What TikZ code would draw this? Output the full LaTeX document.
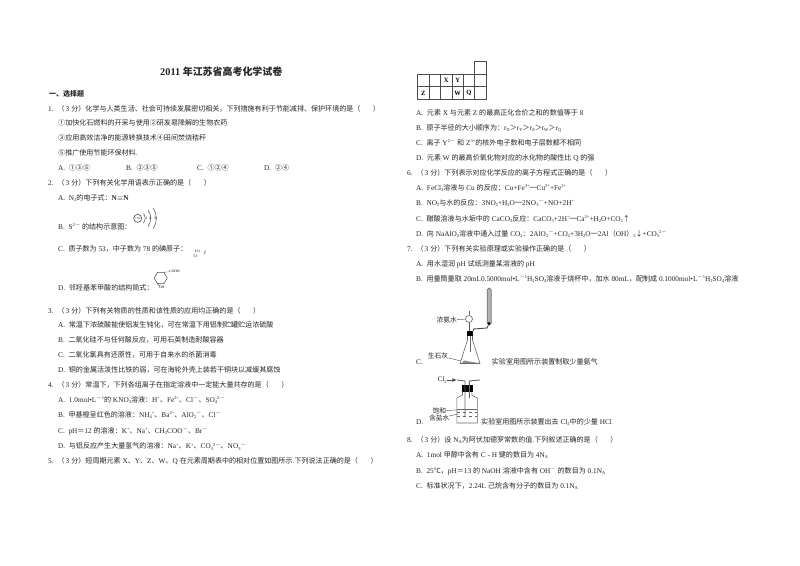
\documentclass[tikz,border=0pt]{standalone}
\usepackage{fontspec}
\setmainfont{Liberation Serif}
\newfontfamily\cjk[Scale=0.966]{Noto Sans CJK SC}
\usetikzlibrary{positioning,arrows,shapes,calc}
\newcommand{\zh}[1]{{\cjk #1}}
\newcommand{\up}[1]{\raisebox{2.6pt}{\fontsize{4.5}{5}\selectfont #1}}
\newcommand{\dn}[1]{\raisebox{-1.2pt}{\fontsize{4.5}{5}\selectfont #1}}
% full width marks
\newcommand{\dou}{{\cjk\char"FF0C\relax}}
\newcommand{\mao}{{\cjk\char"FF1A\relax}}
\newcommand{\zuo}{{\cjk\char"FF08\relax}}
\newcommand{\you}{{\cjk\char"FF09\relax}}
\newcommand{\dayu}{{\cjk\char"FF1E\relax}}
\newcommand{\deng}{{\cjk\char"FF1D\relax}}
\newcommand{\qhead}[1]{#1.\hspace{4pt}\zuo{}\hspace{1pt}3\hspace{2pt}\zh{分}\you{}}
\newcommand{\blank}{\zuo{}\hspace{12.5pt}\you{}}
\tikzset{
  txt/.style={anchor=base west,inner sep=0pt,yshift=-3.3pt,font=\fontsize{7.3}{9}\selectfont,text=black!85},
  small/.style={anchor=center,inner sep=0pt,font=\fontsize{7}{8}\selectfont,text=black!85},
  tiny/.style={anchor=center,inner sep=0pt,font=\fontsize{3.6}{4}\selectfont},
  cell/.style={draw=black!70,line width=.6pt,minimum width=11.4pt,minimum height=12.5pt,inner sep=0pt,font=\fontsize{6.5}{8}\selectfont\bfseries},
  glass/.style={draw=black!60,line width=.6pt},
  stopper/.style={fill=black,inner sep=0pt}
}
\begin{document}
\begin{tikzpicture}[x=1pt,y=-1pt]
\useasboundingbox[fill=white] (0,0) rectangle (800,565);
% left column
\node[txt,font=\fontsize{10.3}{12}\selectfont\bfseries] (title) at (160,72) {2011 \zh{年江苏省高考化学试卷}};
\node[txt,font=\fontsize{7.2}{9}\selectfont\bfseries] (sec) at (49,93) {\zh{一、选择题}};
\node[txt] (q1) at (48,108) {\qhead{1}\zh{化学与人类生活、社会可持续发展密切相关}\dou{}\zh{下列措施有利于节能减排、保护环境的是}\blank};
\node[txt] (q1o1) at (58,122) {\zh{①加快化石燃料的开采与使用②研发易降解的生物农药}};
\node[txt] (q1o2) at (58,137) {\zh{③应用高效洁净的能源转换技术④田间焚烧秸秆}};
\node[txt] (q1o3) at (58,152) {\zh{⑤推广使用节能环保材料.}};
\node[txt] (q1a) at (58,167) {A.\ \ \zh{①③⑤}};
\node[txt] (q1b) at (126,167) {B.\ \ \zh{②③⑤}};
\node[txt] (q1c) at (197,167) {C.\ \ \zh{①②④}};
\node[txt] (q1d) at (264,167) {D.\ \ \zh{②④}};
\node[txt] (q2) at (48,182) {\qhead{2}\zh{下列有关化学用语表示正确的是}\blank};
\node[txt] (q2a) at (58,197) {A.\ \ N\dn{2}\zh{的电子式}\mao{}\textbf{N$\equiv$N}};
\node[txt] (q2b) at (58,226) {B.\ \ S\up{2$-$}\ \zh{的结构示意图}\mao};
\node[txt] (q2c) at (58,248) {C.\ \ \zh{质子数为} 53\dou{}\zh{中子数为} 78 \zh{的碘原子}\mao};
\node[txt] (q2d) at (58,287) {D.\ \ \zh{邻羟基苯甲酸的结构简式}\mao};
% S2- ion
\node[circle,draw=black!70,line width=.6pt,minimum size=8pt,inner sep=0pt,font=\fontsize{3.2}{4}\selectfont] (ion) at (137.7,218.3) {+16};
\draw[black!70,line width=.5pt] (143.5,213.5) to[bend left=35] (143.5,223);
\draw[black!70,line width=.5pt] (148,210) to[bend left=35] (148,226.5);
\draw[black!70,line width=.5pt] (153,208) to[bend left=35] (153,228.5);
\node[tiny] (e1) at (146.5,218) {2};
\node[tiny] (e2) at (150.5,218) {8};
\node[tiny] (e3) at (155.5,218) {8};
% iodine
\node[tiny] (i1) at (197.5,251) {131};
\node[tiny] (i2) at (195.5,256) {53};
\node[tiny,font=\fontsize{5}{6}\selectfont\itshape] (i3) at (205,253) {I};
% hydroxybenzoic acid
\node[regular polygon,regular polygon sides=6,draw=black!70,line width=.5pt,minimum size=13pt,inner sep=0pt] (ring) at (160.7,278) {};
\node[tiny] (cooh) at (174.5,271.7) {COOH};
\node[tiny] (oh) at (161.7,287.5) {OH};
\draw[black!70,line width=.4pt] (ring.corner 1) -- (cooh);
\draw[black!70,line width=.4pt] (ring.corner 4) -- (oh);
\node[txt] (q3) at (48,310) {\qhead{3}\zh{下列有关物质的性质和该性质的应用均正确的是}\blank};
\node[txt] (q3a) at (58,324) {A.\ \ \zh{常温下浓硫酸能使铝发生钝化}\dou{}\zh{可在常温下用铝制贮罐贮运浓硫酸}};
\node[txt] (q3b) at (58,339) {B.\ \ \zh{二氧化硅不与任何酸反应}\dou{}\zh{可用石英制造耐酸容器}};
\node[txt] (q3c) at (58,354) {C.\ \ \zh{二氧化氯具有还原性}\dou{}\zh{可用于自来水的杀菌消毒}};
\node[txt] (q3d) at (58,369) {D.\ \ \zh{铜的金属活泼性比铁的弱}\dou{}\zh{可在海轮外壳上装若干铜块以减缓其腐蚀}};
\node[txt] (q4) at (48,384) {\qhead{4}\zh{常温下}\dou{}\zh{下列各组离子在指定溶液中一定能大量共存的是}\blank};
\node[txt] (q4a) at (58,399) {A.\ \ 1.0mol•L\up{$-$1}\zh{的} KNO\dn{3}\zh{溶液}\mao{}H\up{+}\zh{、}Fe\up{2+}\zh{、}Cl\up{$-$}\zh{、}SO\dn{4}\up{2$-$}};
\node[txt] (q4b) at (58,414) {B.\ \ \zh{甲基橙呈红色的溶液}\mao{}NH\dn{4}\up{+}\zh{、}Ba\up{2+}\zh{、}AlO\dn{2}\up{$-$}\zh{、}Cl\up{$-$}};
\node[txt] (q4c) at (58,430) {C.\ \ pH\deng{}12 \zh{的溶液}\mao{}K\up{+}\zh{、}Na\up{+}\zh{、}CH\dn{3}COO\up{$-$}\zh{、}Br\up{$-$}};
\node[txt] (q4d) at (58,445.5) {D.\ \ \zh{与铝反应产生大量氢气的溶液}\mao{}Na\up{+}\zh{、}K\up{+}\zh{、}CO\dn{3}\up{2$-$}\zh{、}NO\dn{3}\up{$-$}};
\node[txt] (q5) at (48,460) {\qhead{5}\zh{短周期元素} X\zh{、}Y\zh{、}Z\zh{、}W\zh{、}Q \zh{在元素周期表中的相对位置如图所示.下列说法正确的是}\blank};
% right column, periodic table
\foreach \c/\r/\t in {0/1/,1/1/,2/1/X,3/1/Y,4/1/,5/1/,0/2/Z,1/2/,2/2/,3/2/W,4/2/Q,5/2/,5/0/}
  \node[cell] (c\c\r) at (423.4+11.4*\c,68+12.5*\r) {\t};
\node[txt] (q5a) at (416,112) {A.\ \ \zh{元素} X \zh{与元素} Z \zh{的最高正化合价之和的数值等于} 8};
\node[txt] (q5b) at (416,127) {B.\ \ \zh{原子半径的大小顺序为}\mao{}r\dn{X}\dayu{}r\dn{Y}\dayu{}r\dn{Z}\dayu{}r\dn{W}\dayu{}r\dn{Q}};
\node[txt] (q5c) at (416,142) {C.\ \ \zh{离子} Y\up{2$-$}\ \zh{和} Z\up{3+}\zh{的核外电子数和电子层数都不相同}};
\node[txt] (q5d) at (416,157) {D.\ \ \zh{元素} W \zh{的最高价氧化物对应的水化物的酸性比} Q \zh{的强}};
\node[txt] (q6) at (407,172) {\qhead{6}\zh{下列表示对应化学反应的离子方程式正确的是}\blank};
\node[txt] (q6a) at (416,187) {A.\ \ FeCl\dn{3}\zh{溶液与} Cu \zh{的反应}\mao{}Cu+Fe\up{3+}\zh{═}Cu\up{2+}+Fe\up{2+}};
\node[txt] (q6b) at (416,202) {B.\ \ NO\dn{2}\zh{与水的反应}\mao{}3NO\dn{2}+H\dn{2}O\zh{═}2NO\dn{3}\up{$-$}+NO+2H\up{+}};
\node[txt] (q6c) at (416,218) {C.\ \ \zh{醋酸溶液与水垢中的} CaCO\dn{3}\zh{反应}\mao{}CaCO\dn{3}+2H\up{+}\zh{═}Ca\up{2+}+H\dn{2}O+CO\dn{2}\zh{↑}};
\node[txt] (q6d) at (416,233) {D.\ \ \zh{向} NaAlO\dn{2}\zh{溶液中通入过量} CO\dn{2}\mao{}2AlO\dn{2}\up{$-$}+CO\dn{2}+3H\dn{2}O\zh{═}2Al\zuo{}OH\you{}\dn{3}\zh{↓}+CO\dn{3}\up{2$-$}};
\node[txt] (q7) at (407,248) {\qhead{7}\zh{下列有关实验原理或实验操作正确的是}\blank};
\node[txt] (q7a) at (416,263) {A.\ \ \zh{用水湿润} pH \zh{试纸测量某溶液的} pH};
\node[txt] (q7b) at (416,278) {B.\ \ \zh{用量筒量取} 20mL0.5000mol•L\up{$-$1}H\dn{2}SO\dn{4}\zh{溶液于烧杯中}\dou{}\zh{加水} 80mL\dou{}\zh{配制成} 0.1000mol•L\up{$-$1}H\dn{2}SO\dn{4}\zh{溶液}};
% ammonia apparatus
\node[txt] (q7c) at (416,361) {C.};
\node[txt] (capc) at (491.7,361) {\zh{实验室用图所示装置制取少量氨气}};
\node[small] (labnh) at (446.7,320) {\zh{浓氨水}};
\node[small] (labcao) at (438,355.5) {\zh{生石灰}};
\node[circle,glass,minimum size=7pt,inner sep=0pt] (funnel) at (469,319) {};
\draw[black!60,line width=.8pt] (funnel.north) -- ++(0,-4);
\draw[black!70,line width=.6pt] (funnel.south) -- ++(0,9);
\node[stopper,minimum width=6pt,minimum height=5pt] (plug) at (470,333.5) {};
\draw[glass] (467.5,336) -- (467.5,340) -- (460,363.5) -- (480,363.5) -- (472.5,340) -- (472.5,336);
\draw[black!60,line width=.5pt] (470,336) -- (470,352);
\fill[black!45] (462,363) -- (464,360.5) -- (472,362) -- (478,363) -- cycle;
\node[draw=black!55,fill=black!30,rounded corners=1.8pt,line width=.7pt,minimum width=4pt,minimum height=37pt,inner sep=0pt] (tube) at (489.2,306.5) {};
\node[circle,fill=black,minimum size=3.2pt,inner sep=0pt] (tubeplug) at (489,323.5) {};
\draw[black!70,line width=.9pt] (plug.north east) -- (473.5,329) -- (487,328) -- (tubeplug);
\draw[black!60,line width=.5pt] (labnh) -- (funnel);
\draw[black!60,line width=.5pt] (labcao) -- (461,361);
% chlorine apparatus
\node[small] (labcl) at (442.3,380) {Cl\dn{2}};
\coordinate (clin) at (456,380);
\draw[->,>=stealth',black!70,line width=.5pt] (labcl) -- (clin);
\node[stopper,minimum width=11pt,minimum height=6.5pt] (bung) at (467.2,388.5) {};
\draw[black!60,line width=.9pt] (457,380) -- (465,381) -- (465,416.5);
\draw[black!60,line width=.9pt] (480,380) -- (469.3,381) -- (469.3,398);
\draw[glass] (462.5,391.5) -- (462.5,395) -- (456.8,398) -- (456.8,423) -- (477.3,423) -- (477.3,398) -- (471.8,395) -- (471.8,391.5);
\draw[black!60,line width=.4pt] (456.8,409.5) -- (477.3,409.5);
\draw[black!60,line width=.4pt,dashed] (456.8,412.5) -- (477.3,412.5);
\draw[black!60,line width=.4pt,dashed] (456.8,416) -- (477.3,416);
\node[small] (labsat) at (439.3,410.7) {\zh{饱和}};
\node[small] (labsalt) at (439.3,418.3) {\zh{含盐水}};
\draw[black!60,line width=.5pt] (labsat) -- (458,410);
\draw[black!60,line width=.5pt] (labsalt) -- (458,414);
\node[txt] (q7d) at (416,421) {D.};
\node[txt] (capd) at (481,421) {\zh{实验室用图所示装置出去} Cl\dn{2}\zh{中的少量} HCl};
\node[txt] (q8) at (407,439) {\qhead{8}\zh{设} N\dn{A}\zh{为阿伏加德罗常数的值.下列叙述正确的是}\blank};
\node[txt] (q8a) at (416,454) {A.\ \ 1mol \zh{甲醇中含有} C - H \zh{键的数目为} 4N\dn{A}};
\node[txt] (q8b) at (416,470) {B.\ \ 25\zh{℃}\dou{}pH\deng{}13 \zh{的} NaOH \zh{溶液中含有} OH\up{$-$}\ \zh{的数目为} 0.1N\dn{A}};
\node[txt] (q8c) at (416,485) {C.\ \ \zh{标准状况下}\dou{}2.24L \zh{己烷含有分子的数目为} 0.1N\dn{A}};
\end{tikzpicture}
\end{document}
